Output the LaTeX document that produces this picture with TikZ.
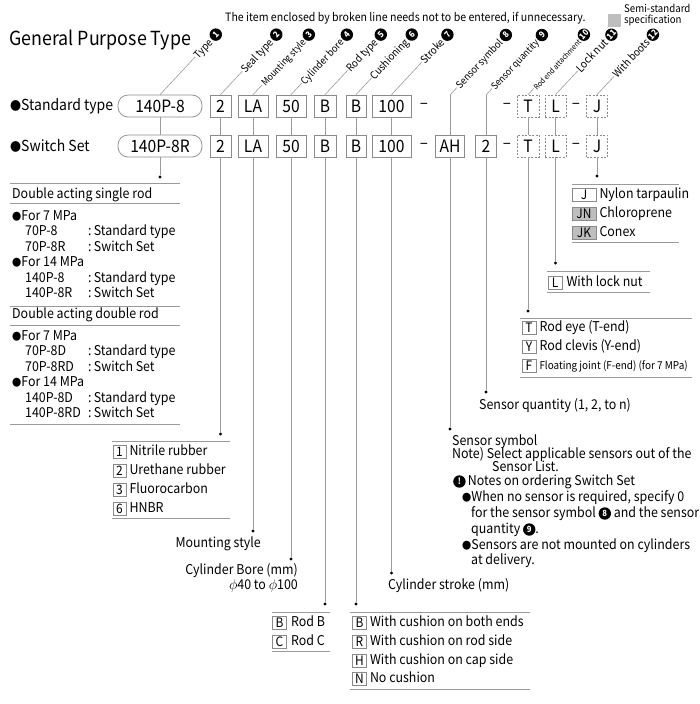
\documentclass[tikz,border=0pt]{standalone}
\usepackage{fontspec}
\setmainfont{Noto Sans CJK JP}[FakeStretch=0.92]
\usetikzlibrary{positioning}

\definecolor{rulegray}{HTML}{9A9A9A}
\definecolor{boxgray}{HTML}{8A8A8A}
\definecolor{semigray}{HTML}{BEBEBE}

\newcommand{\fs}[1]{\fontsize{#1}{#1}\selectfont}
\newcommand{\bul}{{\fs{10}●}}
\newcommand{\cn}[1]{\tikz[baseline=-4pt]{\fill[black] (0,0) circle (6.2pt); \node[text=white, inner sep=0pt, anchor=center, font=\fs{8.5}\bfseries] (cc) at (0,0) {#1};}}

\tikzset{
  cell/.style={draw=boxgray, line width=0.7pt, minimum width=#1, minimum height=22pt, inner sep=0pt, font=\fs{17}},
  dcell/.style={cell=#1, dash pattern=on 2pt off 1.5pt},
  pill/.style={cell=#1, rounded corners=10pt},
  lead/.style={draw=rulegray, line width=0.6pt},
  rule/.style={draw=rulegray, line width=0.8pt},
  dot/.style={circle, fill=black, inner sep=0pt, minimum size=3.2pt},
  tag/.style={draw=boxgray, line width=0.6pt, minimum width=#1, minimum height=12.5pt, inner sep=0pt, font=\fs{13}},
  tag/.default=14,
  txt/.style={anchor=west, inner sep=0pt, text height=9.5pt, text depth=2.5pt, font=\fs{13.5}},
  lbl/.style={rotate=47, anchor=east, inner sep=0.5pt, font=\fs{#1}},
}

\begin{document}
\begin{tikzpicture}[x=1pt,y=-1pt]
\useasboundingbox (0,0) rectangle (700,704);

% header
\node[anchor=west, inner sep=0pt, font=\fs{19.4}] (title) at (9,40) {General Purpose Type};
\node[anchor=west, inner sep=0pt, font=\fs{11.5}] (hint) at (225,18) {The item enclosed by broken line needs not to be entered, if unnecessary.};
\node[fill=semigray, minimum size=13pt, inner sep=0pt] (semibox) at (614,20) {};
\node[anchor=west, inner sep=0pt, align=left, font=\fs{10.5}] (semitxt) at (624,15) {Semi-standard\\specification};

% model code rows
\node[anchor=west, inner sep=0pt, font=\fs{15.2}] (stdlbl) at (10,106) {{\fs{12}●}Standard type};
\node[anchor=west, inner sep=0pt, font=\fs{15.2}] (swlbl) at (10,146) {{\fs{12}●}Switch Set};
\node[pill=84] (atype) at (160,106) {140P-8};
\node[pill=84] (btype) at (160,146) {140P-8R};
\foreach \n/\x/\w/\t in {seal/220.5/21/2, mount/253/30/LA, bore/291/30/50, rod/325/22/B, cush/356/20/B, stroke/391.5/39/100} {
    \node[cell=\w] (a\n) at (\x,106) {\t};
    \node[cell=\w] (b\n) at (\x,146) {\t};
}
\node[cell=29] (bsym) at (450,146) {AH};
\node[cell=21] (bqty) at (486,146) {2};
\foreach \n/\x/\w/\t in {rend/528/22/T, lock/555.5/21/L, boots/597/21/J} {
    \node[dcell=\w] (a\n) at (\x,106) {\t};
    \node[dcell=\w] (b\n) at (\x,146) {\t};
}
\foreach \x [count=\i] in {424,507,576} {
    \node[inner sep=0pt, font=\fs{16.5}] (da\i) at (\x,106) {–};
    \node[inner sep=0pt, font=\fs{16.5}] (db\i) at (\x,146) {–};
}
\foreach \n in {type,seal,mount,bore,rod,cush,stroke,rend,lock,boots} {
    \draw[lead] (a\n) -- (b\n);
    \coordinate (k\n) at (a\n.north);
}
\coordinate (ksym) at (450,95);
\coordinate (kqty) at (486,95);
\draw[lead] (bsym) -- (ksym);
\draw[lead] (bqty) -- (kqty);

% slanted item names
\foreach \n/\t/\s/\k in {type/Type/10.5/1, seal/Seal type/10.5/2, mount/Mounting style/9.5/3, bore/Cylinder bore/10/4, rod/Rod type/10.5/5, cush/Cushioning/10.5/6, stroke/Stroke/10.5/7, sym/Sensor symbol/10/8, qty/Sensor quantity/9.5/9, rend/Rod end attachment/7.5/10, lock/Lock nut/11/11, boots/With boots/10.5/12} {
    \path (k\n) ++(60.6,-65) coordinate (e\n);
    \node[lbl=\s] (l\n) at (e\n) {\t\,\cn{\k}};
    \draw[lead] (k\n) -- (l\n.west);
}

% drop lines
\foreach \n/\x/\y in {type/160/177, seal/220.5/434, mount/253/531, bore/291/559, rod/325/604, cush/356/604, stroke/391.5/573, sym/450/429, qty/486/392, rend/528/311, lock/555.5/263, boots/597/176} {
    \node[dot] (d\n) at (\x,\y) {};
    \draw[lead] (b\n) -- (d\n);
}

% type
\draw[rule] (10,183) -- (180,183);
\node[txt] (srod) at (12,195) {Double acting single rod};
\draw[rule] (10,203) -- (180,203);
\node[txt] (sr7) at (12,217) {\bul For 7 MPa};
\node[txt] (sr14) at (12,263) {\bul For 14 MPa};
\draw[rule] (10,306) -- (180,306);
\node[txt] (drod) at (12,315) {Double acting double rod};
\draw[rule] (10,325) -- (180,325);
\node[txt] (dr7) at (12,337) {\bul For 7 MPa};
\node[txt] (dr14) at (12,383) {\bul For 14 MPa};
\foreach \y/\m/\k [count=\i] in {232/70P-8/Standard type, 248/70P-8R/Switch Set, 279/140P-8/Standard type, 294/140P-8R/Switch Set, 352/70P-8D/Standard type, 368/70P-8RD/Switch Set, 399/140P-8D/Standard type, 414/140P-8RD/Switch Set} {
    \node[txt] (mdl\i) at (25,\y) {\m};
    \node[txt] (use\i) at (88,\y) {:\,\k};
}
\draw[rule] (10,424) -- (180,424);

% seal type
\draw[rule] (112,441) -- (230,441);
\foreach \y/\t/\s [count=\i] in {452/1/Nitrile rubber, 471/2/Urethane rubber, 490/3/Fluorocarbon, 509/6/HNBR} {
    \node[tag=13] (sealt\i) at (119.5,\y) {\t};
    \node[txt, right=3pt of sealt\i] (seals\i) {\s};
}
\draw[rule] (112,518) -- (230,518);

% mounting style, bore, stroke
\node[txt, anchor=east] (mounttxt) at (261,544) {Mounting style};
\node[txt, anchor=east] (boretxt) at (298,571) {Cylinder Bore (mm)};
\node[txt, anchor=east] (borerng) at (298,586) {$\phi$40 to $\phi$100};
\node[txt] (stroketxt) at (388,586) {Cylinder stroke (mm)};

% rod type
\draw[rule] (272,612) -- (330,612);
\foreach \y/\t/\s [count=\i] in {623/B/Rod B, 642/C/Rod C} {
    \node[tag] (rodt\i) at (279.5,\y) {\t};
    \node[txt, right=4pt of rodt\i] (rods\i) {\s};
}
\draw[rule] (272,651) -- (330,651);

% cushioning
\draw[rule] (350,612) -- (530,612);
\foreach \y/\t/\s [count=\i] in {623/B/With cushion on both ends, 642/R/With cushion on rod side, 661/H/With cushion on cap side, 679/N/No cushion} {
    \node[tag] (cusht\i) at (359.5,\y) {\t};
    \node[txt, right=3pt of cusht\i] (cushs\i) {\s};
}
\draw[rule] (350,689) -- (530,689);

% sensors
\node[txt] (symtxt) at (452,442) {Sensor symbol};
\node[txt] (symnote) at (452,455) {Note) Select applicable sensors out of the};
\node[txt] (symnote2) at (492,468) {Sensor List.};
\node[txt] (qtytxt) at (479,406) {Sensor quantity (1, 2, to n)};
\node[txt] (notehd) at (453,482) {\cn{!}\,Notes on ordering Switch Set};
\node[txt] (note1) at (462,498) {\bul When no sensor is required, specify 0};
\node[txt] (note1b) at (471,514) {for the sensor symbol \cn{8} and the sensor};
\node[txt] (note1c) at (471,530) {quantity \cn{9}.};
\node[txt] (note2) at (462,546) {\bul Sensors are not mounted on cylinders};
\node[txt] (note2b) at (471,561) {at delivery.};

% rod end attachment
\draw[rule] (520,318) -- (692,318);
\node[tag] (rendt1) at (529,328) {T};
\node[txt, right=3pt of rendt1] (rends1) {Rod eye (T-end)};
\node[tag] (rendt2) at (529,347) {Y};
\node[txt, right=3pt of rendt2] (rends2) {Rod clevis (Y-end)};
\node[tag] (rendt3) at (529,366) {F};
\node[txt, right=3pt of rendt3, font=\fs{10.8}] (rends3) {Floating joint (F-end) (for 7 MPa)};
\draw[rule] (520,377) -- (692,377);

% lock nut
\draw[rule] (547,271) -- (650,271);
\node[tag] (lockt1) at (555,283) {L};
\node[txt, right=4pt of lockt1] (locks1) {With lock nut};
\draw[rule] (547,292) -- (650,292);

% boots
\draw[rule] (572,184) -- (679,184);
\node[tag=24] (boott1) at (584,195) {J};
\node[txt, right=3pt of boott1] (boots1) {Nylon tarpaulin};
\node[tag=24, fill=semigray] (boott2) at (584,214) {JN};
\node[txt, right=3pt of boott2] (boots2) {Chloroprene};
\node[tag=24, fill=semigray] (boott3) at (584,233) {JK};
\node[txt, right=3pt of boott3] (boots3) {Conex};
\draw[rule] (572,242) -- (679,242);

\end{tikzpicture}
\end{document}
